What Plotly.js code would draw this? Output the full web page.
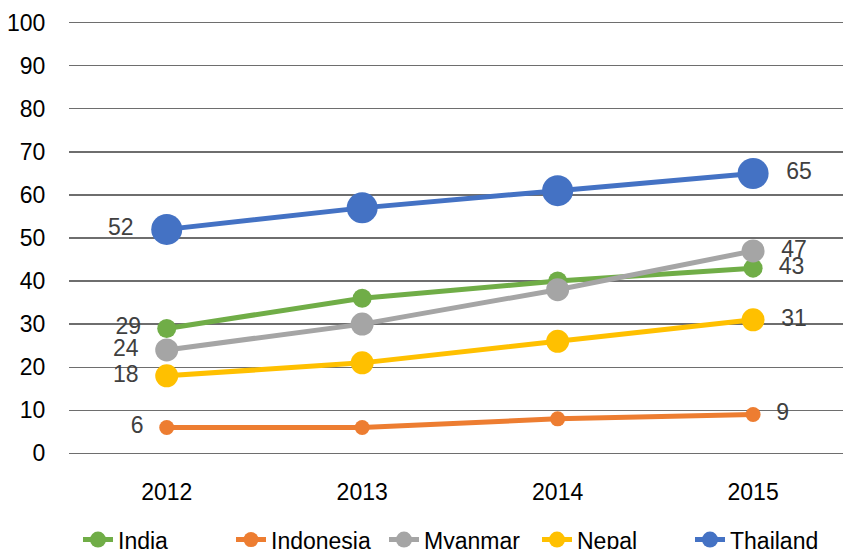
<!DOCTYPE html>
<html><head><meta charset="utf-8">
<script src="https://cdn.plot.ly/plotly-3.0.1.min.js"></script>
<style>html,body{margin:0;padding:0;overflow:hidden;background:#fff}</style>
</head><body>
<div id="chart" style="width:843px;height:549px"></div>
<script>
const years = ["2012", "2013", "2014", "2015"];
const seriesNames = ["India", "Indonesia", "Myanmar", "Nepal", "Thailand"];
const india = [29, 36, 40, 43];
const indonesia = [6, 6, 8, 9];
const myanmar = [24, 30, 38, 47];
const nepal = [18, 21, 26, 31];
const thailand = [52, 57, 61, 65];
const yTicks = [0, 10, 20, 30, 40, 50, 60, 70, 80, 90, 100];

const values = [india, indonesia, myanmar, nepal, thailand];
const colors = ["#70AD47", "#ED7D31", "#A5A5A5", "#FFC000", "#4472C4"];
const sizes = [19, 15, 23, 23, 31];
const FONT = "Liberation Sans, Arial, Helvetica, sans-serif";
const FS = 23;
const PAD = "\u00a0\u00a0";

const traces = values.map((v, i) => ({
  type: "scatter",
  mode: "lines+markers+text",
  name: seriesNames[i],
  x: years,
  y: v,
  text: v.map((d, j) => j === 0 ? String(d) + PAD : (j === v.length - 1 ? PAD + String(d) : "")),
  textposition: v.map((d, j) => j === 0 ? "middle left" : "middle right"),
  textfont: {family: FONT, size: FS, color: "#404040"},
  line: {color: colors[i], width: 5},
  marker: {color: colors[i], size: sizes[i]},
  cliponaxis: false,
  hoverinfo: "x+y+name"
}));

const layout = {
  width: 843, height: 549,
  margin: {l: 69, r: 0, t: 21, b: 94, autoexpand: false},
  paper_bgcolor: "#fff", plot_bgcolor: "#fff",
  font: {family: FONT, size: FS, color: "#000"},
  showlegend: true,
  legend: {orientation: "h", x: 1, xanchor: "right", y: -0.195, yanchor: "middle",
           entrywidth: 108, entrywidthmode: "pixels",
           font: {family: FONT, size: FS, color: "#000"}, itemwidth: 30, tracegroupgap: 0},
  xaxis: {type: "category", range: [-0.5, 3.46], showgrid: false, zeroline: false,
          showline: false, ticks: "outside", ticklen: 16, tickcolor: "rgba(0,0,0,0)",
          tickfont: {family: FONT, size: FS, color: "#000"}},
  yaxis: {range: [-0.4, 100.4], tickvals: yTicks, showgrid: true, gridcolor: "#6e6e6e", gridwidth: 1.3,
          zeroline: false, showline: false, ticks: "outside", ticklen: 18, tickcolor: "rgba(0,0,0,0)",
          tickfont: {family: FONT, size: FS, color: "#000"}}
};

Plotly.newPlot("chart", traces, layout, {displayModeBar: false, staticPlot: true});
</script>
</body></html>
